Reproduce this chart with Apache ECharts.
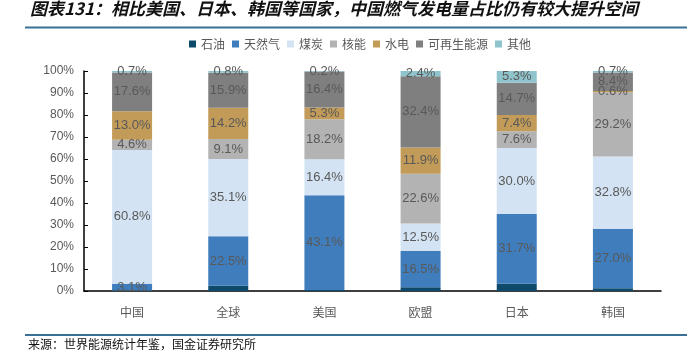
<!DOCTYPE html>
<html>
<head>
<meta charset="utf-8">
<script src="https://cdn.jsdelivr.net/npm/echarts@6/dist/echarts.min.js"></script>
<style>html,body{margin:0;padding:0;background:#fff}#c{width:687px;height:357px}</style>
</head>
<body>
<div id="c"></div>
<script>
var categories = ['中国', '全球', '美国', '欧盟', '日本', '韩国'];
var seriesNames = ['石油', '天然气', '煤炭', '核能', '水电', '可再生能源', '其他'];
var oil       = [0.2, 2.4, 0.4, 1.7, 3.3, 1.3];
var gas       = [3.1, 22.5, 43.1, 16.5, 31.7, 27.0];
var coal      = [60.8, 35.1, 16.4, 12.5, 30.0, 32.8];
var nuclear   = [4.6, 9.1, 18.2, 22.6, 7.6, 29.2];
var hydro     = [13.0, 14.2, 5.3, 11.9, 7.4, 0.6];
var renewable = [17.6, 15.9, 16.4, 32.4, 14.7, 8.4];
var other     = [0.7, 0.8, 0.2, 2.4, 5.3, 0.7];
var yTicks = [0, 10, 20, 30, 40, 50, 60, 70, 80, 90, 100];

var colors = ['#0d4a6b', '#3f7dbc', '#d3e3f3', '#b3b3b3', '#c29b58', '#7f7f7f', '#8fc4cd'];
var dataSets = [oil, gas, coal, nuclear, hydro, renewable, other];
var FF = 'Liberation Sans, Arial, Noto Sans CJK SC, sans-serif';

var series = seriesNames.map(function (n, i) {
  return {
    name: n,
    type: 'bar',
    stack: 'total',
    barWidth: 40,
    data: dataSets[i],
    itemStyle: { color: colors[i] },
    label: {
      show: i !== 0,
      position: 'inside',
      color: '#595959',
      fontSize: 13,
      fontFamily: FF,
      formatter: function (p) { return p.value.toFixed(1) + '%'; }
    },
    labelLayout: { hideOverlap: false }
  };
});

var chart = echarts.init(document.getElementById('c'), null, { renderer: 'canvas' });
chart.setOption({
  animation: false,
  color: colors,
  textStyle: { fontFamily: FF },
  grid: { left: 84, right: 26, top: 71, bottom: 66, containLabel: false },
  legend: {
    data: seriesNames,
    left: 184,
    top: 33,
    itemWidth: 7,
    itemHeight: 7,
    itemGap: 7,
    icon: 'rect',
    textStyle: { color: '#595959', fontSize: 12, fontFamily: 'Noto Sans CJK SC, sans-serif' }
  },
  xAxis: {
    type: 'category',
    data: categories,
    axisLine: { lineStyle: { color: '#000', width: 1.5 } },
    axisTick: { inside: true, length: 4, lineStyle: { color: '#000' } },
    axisLabel: { color: '#595959', fontSize: 12, margin: 15, fontFamily: 'Noto Sans CJK SC, sans-serif' }
  },
  yAxis: {
    type: 'value',
    min: yTicks[0],
    max: yTicks[yTicks.length - 1],
    interval: 10,
    splitLine: { show: false },
    axisLine: { show: true, lineStyle: { color: '#000', width: 1.5 } },
    axisTick: { show: true, inside: true, length: 4, lineStyle: { color: '#000' } },
    axisLabel: { color: '#595959', fontSize: 12, margin: 10, formatter: '{value}%' }
  },
  graphic: [
    { type: 'text', left: 30, top: 0,
      style: { text: '图表131：相比美国、日本、韩国等国家，中国燃气发电量占比仍有较大提升空间',
               font: 'italic bold 17px "Noto Sans CJK SC"', fill: '#111' } },
    { type: 'line', shape: { x1: 25, y1: 27.5, x2: 687, y2: 27.5 },
      style: { stroke: '#3a6f96', lineWidth: 2 } },
    { type: 'line', shape: { x1: 25, y1: 335, x2: 687, y2: 335 },
      style: { stroke: '#3a6f96', lineWidth: 2 } },
    { type: 'text', left: 28, top: 338,
      style: { text: '来源：世界能源统计年鉴，国金证券研究所',
               font: '12px "Noto Sans CJK SC"', fill: '#111' } }
  ],
  series: series
});
</script>
</body>
</html>
